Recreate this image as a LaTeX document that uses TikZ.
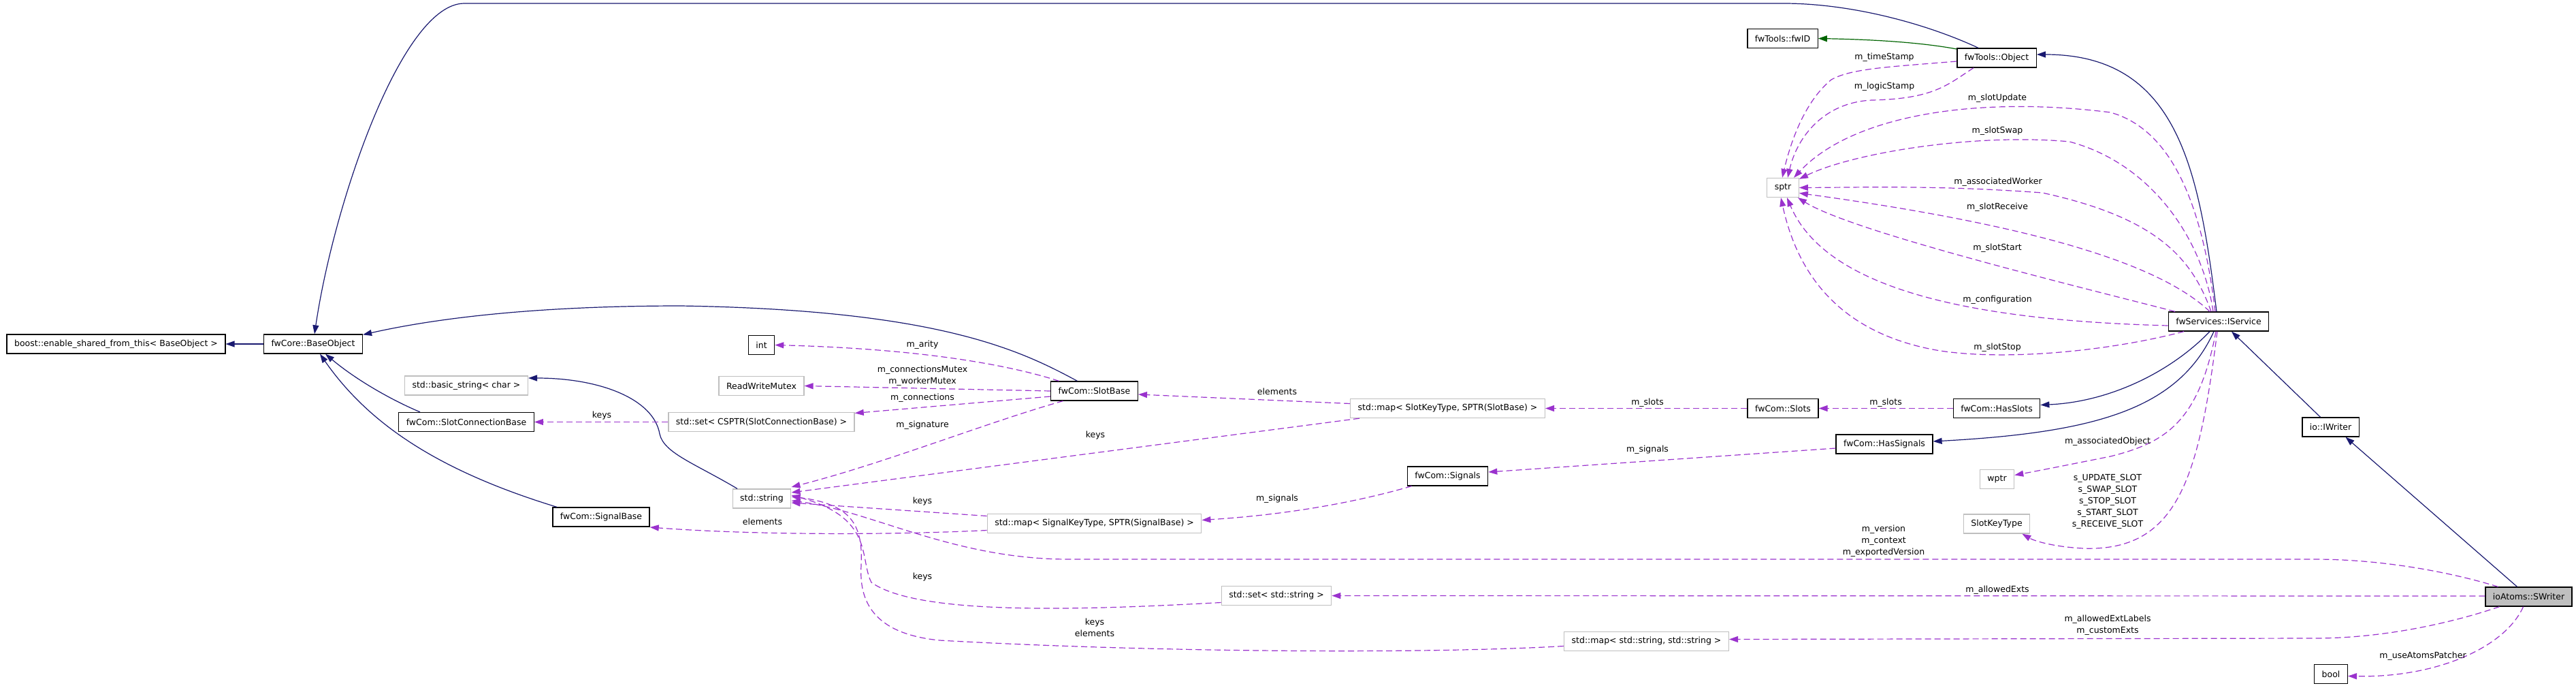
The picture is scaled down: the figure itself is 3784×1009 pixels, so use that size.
\documentclass[tikz,border=0pt]{standalone}
\usepackage{fontspec}
\setmainfont{DejaVu Sans}
\usetikzlibrary{arrows.meta}
\definecolor{inhcol}{HTML}{191970}
\definecolor{usecol}{HTML}{9A32CD}
\definecolor{tplcol}{HTML}{006400}
\definecolor{extcol}{HTML}{BFBFBF}

\begin{document}
\begin{tikzpicture}[x=1pt,y=-1pt,
        every node/.style={font=\fontsize{12.5}{17}\selectfont},
        cls/.style={draw=black,line width=1.3pt,fill=white,minimum height=28pt,inner xsep=11pt,inner ysep=0pt},
        ext/.style={cls,draw=extcol},
        inh/.style={draw=inhcol,line width=1.2pt,-{Triangle[length=13pt,width=9pt]}},
        tpl/.style={inh,draw=tplcol},
        use/.style={draw=usecol,line width=1.2pt,dash pattern=on 9pt off 5pt,-{Triangle[length=13pt,width=9pt]}},
        lbl/.style={inner sep=0pt}]
        \useasboundingbox (0,0) rectangle (3784,1009);

        \node[cls] (boost) at (170.5,505) {boost::enable\_shared\_from\_this< BaseObject >};
        \node[cls] (baseobj) at (460,505) {fwCore::BaseObject};
        \node[ext] (basicstr) at (685,566) {std::basic\_string< char >};
        \node[cls] (slotconn) at (685,619.5) {fwCom::SlotConnectionBase};
        \node[cls] (signalbase) at (883,759) {fwCom::SignalBase};
        \node[cls] (int) at (1118.5,506.5) {int};
        \node[ext] (rwmutex) at (1118.5,566.5) {ReadWriteMutex};
        \node[ext] (connset) at (1118.5,619.5) {std::set< CSPTR(SlotConnectionBase) >};
        \node[ext] (stdstring) at (1119,732) {std::string};
        \node[cls] (slotbase) at (1607.5,574) {fwCom::SlotBase};
        \node[ext] (signalmap) at (1607.5,768.5) {std::map< SignalKeyType, SPTR(SignalBase) >};
        \node[ext] (extset) at (1875,874.5) {std::set< std::string >};
        \node[ext] (slotmap) at (2126.5,599.5) {std::map< SlotKeyType, SPTR(SlotBase) >};
        \node[cls] (signals) at (2126.5,699) {fwCom::Signals};
        \node[ext] (labelmap) at (2418.5,941.5) {std::map< std::string, std::string >};
        \node[cls] (slots) at (2619,599.5) {fwCom::Slots};
        \node[cls] (fwid) at (2618.5,56.5) {fwTools::fwID};
        \node[ext] (sptr) at (2619,275.5) {sptr};
        \node[cls] (object) at (2933,85) {fwTools::Object};
        \node[cls] (hasslots) at (2933,599.5) {fwCom::HasSlots};
        \node[cls] (hassignals) at (2768,652) {fwCom::HasSignals};
        \node[ext] (wptr) at (2933.5,703.5) {wptr};
        \node[ext] (slotkey) at (2933,769) {SlotKeyType};
        \node[cls] (iservice) at (3259,472) {fwServices::IService};
        \node[cls] (iwriter) at (3423.5,627) {io::IWriter};
        \node[cls,fill=extcol] (swriter) at (3714.5,876) {ioAtoms::SWriter};
        \node[cls] (bool) at (3424,989.5) {bool};

        \draw[inh] (baseobj) -- (boost);
        \draw[inh] ([xshift=-27pt]object.north) .. controls (2830,35) and (2720,5) .. (2620,5) -- (682,5) .. controls (590,5) and (490,300) .. ([xshift=2pt]baseobj.north);
        \draw[inh] ([xshift=-25pt]slotbase.north) .. controls (1500,515) and (1380,455) .. (1000,449) .. controls (800,449) and (650,465) .. ([yshift=-1pt]baseobj.north east);
        \draw[inh] ([xshift=-68pt]slotconn.north) .. controls (570,585) and (520,555) .. ([xshift=18pt]baseobj.south);
        \draw[inh] ([xshift=-65pt]signalbase.north) .. controls (640,690) and (540,620) .. ([xshift=10pt]baseobj.south);
        \draw[inh] ([xshift=-36pt]stdstring.north) .. controls (1020,680) and (975,665) .. (969,637) .. controls (960,585) and (880,555) .. ([yshift=11pt]basicstr.east);
        \draw[tpl] ([yshift=13pt]object.west) .. controls (2820,62) and (2750,58) .. (fwid.east);
        \draw[inh] ([xshift=-3pt]iservice.north) .. controls (3230,250) and (3200,80) .. ([yshift=5pt]object.east);
        \draw[inh] ([xshift=-13pt]iservice.south) .. controls (3190,545) and (3100,590) .. ([yshift=5pt]hasslots.east);
        \draw[inh] ([xshift=-7pt]iservice.south) .. controls (3200,600) and (3080,635) .. ([yshift=4pt]hassignals.east);
        \draw[inh] ([xshift=-15pt]iwriter.north) -- ([xshift=19pt]iservice.south);
        \draw[inh] ([xshift=-17pt]swriter.north) -- ([xshift=22pt]iwriter.south);

        \draw[use] ([yshift=-5pt]object.west) .. controls (2780,98) and (2720,100) .. (2690,117) .. controls (2650,150) and (2630,210) .. ([xshift=-1pt]sptr.north);
        \draw[use] ([xshift=-34pt]object.south) .. controls (2860,125) and (2840,145) .. (2750,147) .. controls (2680,150) and (2640,200) .. ([xshift=7pt]sptr.north);
        \draw[use] ([xshift=-5pt]iservice.north) .. controls (3235,300) and (3190,190) .. (3100,165) .. controls (2900,140) and (2720,170) .. ([xshift=16pt]sptr.north);
        \draw[use] ([xshift=-8pt]iservice.north) .. controls (3235,350) and (3160,240) .. (3040,208) .. controls (2900,195) and (2720,225) .. ([yshift=-2pt]sptr.north east);
        \draw[use] ([xshift=-11pt]iservice.north) .. controls (3220,380) and (3170,320) .. (3000,283) .. controls (2850,272) and (2750,275) .. (sptr.east);
        \draw[use] ([xshift=-13pt]iservice.north) .. controls (3180,395) and (3020,335) .. ([yshift=-8pt]sptr.east);
        \draw[use] ([xshift=-64pt]iservice.north) .. controls (3050,420) and (2720,340) .. ([xshift=-2pt]sptr.south east);
        \draw[use] ([yshift=-6pt]iservice.west) .. controls (2880,470) and (2680,420) .. ([xshift=6pt]sptr.south);
        \draw[use] ([xshift=-51pt]iservice.south) .. controls (3100,515) and (2950,530) .. (2850,515) .. controls (2700,490) and (2640,400) .. ([xshift=-3pt]sptr.south);
        \draw[use] ([xshift=-4pt]iservice.south) .. controls (3230,620) and (3180,650) .. (3100,670) .. controls (3050,680) and (3000,690) .. ([yshift=6pt]wptr.east);
        \draw[use] ([xshift=-2pt]iservice.south) .. controls (3230,700) and (3200,810) .. (3060,805) .. controls (3020,803) and (2990,795) .. ([xshift=-12pt]slotkey.south east);

        \draw[use] (hasslots) -- (slots);
        \draw[use] (slots) -- (slotmap);
        \draw[use] ([yshift=7pt]slotmap.west) -- ([yshift=-5pt]slotbase.east);
        \draw[use] ([xshift=14pt]slotmap.south west) -- ([yshift=9pt]stdstring.east);
        \draw[use] ([xshift=-46pt]slotbase.south) .. controls (1450,620) and (1300,680) .. ([yshift=17pt]stdstring.east);
        \draw[use] ([xshift=-52pt]slotbase.north) .. controls (1480,535) and (1350,512) .. (int.east);
        \draw[use] (slotbase.west) -- (rwmutex.east);
        \draw[use] ([yshift=-8pt]slotbase.west) -- ([yshift=13pt]connset.east);
        \draw[use] (connset) -- (slotconn);
        \draw[use] ([yshift=-10pt]signalmap.west) .. controls (1300,786) and (1100,785) .. ([yshift=-15pt]signalbase.east);
        \draw[use] ([yshift=-6pt]hassignals.west) -- ([yshift=6pt]signals.east);
        \draw[use] ([xshift=-53pt]signals.south) .. controls (2000,735) and (1900,755) .. ([yshift=5pt]signalmap.east);
        \draw[use] ([yshift=11pt]signalmap.west) -- ([yshift=-6pt]stdstring.east);

        \draw[use] ([xshift=-45pt]swriter.north) .. controls (3600,840) and (3500,821) .. (3400,821) -- (1570,821) .. controls (1400,821) and (1280,750) .. ([yshift=-3pt]stdstring.east);
        \draw[use] ([yshift=1pt]swriter.west) -- (extset.east);
        \draw[use] ([yshift=-10pt]extset.west) .. controls (1600,895) and (1350,905) .. (1280,855) .. controls (1262,820) and (1285,760) .. ([yshift=5pt]stdstring.east);
        \draw[use] ([xshift=-43pt]swriter.south) .. controls (3600,915) and (3500,937) .. (3400,937) -- ([yshift=3pt]labelmap.east);
        \draw[use] ([yshift=-7pt]labelmap.west) .. controls (2100,960) and (1700,958) .. (1380,940) .. controls (1280,930) and (1262,880) .. (1265,830) .. controls (1268,770) and (1250,740) .. ([yshift=3pt]stdstring.east);
        \draw[use] ([xshift=-8pt]swriter.south) .. controls (3680,950) and (3580,995) .. ([yshift=-3pt]bool.east);

        \node[lbl] (lblkeysconn) at (884,610) {keys};
        \node[lbl] (lblarity) at (1355,506) {m\_arity};
        \node[lbl,align=center] (lblmutex) at (1355,552) {m\_connectionsMutex\\m\_workerMutex};
        \node[lbl] (lblconn) at (1355,584) {m\_connections};
        \node[lbl] (lblsignature) at (1355,624) {m\_signature};
        \node[lbl] (lblelemslot) at (1876,575) {elements};
        \node[lbl] (lblkeysslot) at (1609,639) {keys};
        \node[lbl] (lblkeyssignal) at (1355,736) {keys};
        \node[lbl] (lblsignalsmap) at (1876,732) {m\_signals};
        \node[lbl] (lblelemsignal) at (1120,766) {elements};
        \node[lbl] (lblkeysset) at (1355,847) {keys};
        \node[lbl,align=center] (lblkeyselem) at (1608,921) {keys\\elements};
        \node[lbl] (lblslotsmap) at (2420,591) {m\_slots};
        \node[lbl] (lblslots) at (2770,591) {m\_slots};
        \node[lbl] (lblsignals) at (2420,660) {m\_signals};
        \node[lbl] (lbltime) at (2768,84) {m\_timeStamp};
        \node[lbl] (lbllogic) at (2768,127) {m\_logicStamp};
        \node[lbl] (lblupdate) at (2934,144) {m\_slotUpdate};
        \node[lbl] (lblswap) at (2934,192) {m\_slotSwap};
        \node[lbl] (lblworker) at (2935,267) {m\_associatedWorker};
        \node[lbl] (lblreceive) at (2934,304) {m\_slotReceive};
        \node[lbl] (lblstart) at (2934,364) {m\_slotStart};
        \node[lbl] (lblconfig) at (2934,440) {m\_configuration};
        \node[lbl] (lblstop) at (2934,510) {m\_slotStop};
        \node[lbl,align=center] (lblversion) at (2767,794) {m\_version\\m\_context\\m\_exportedVersion};
        \node[lbl] (lblexts) at (2934,866) {m\_allowedExts};
        \node[lbl] (lblobject) at (3096,648) {m\_associatedObject};
        \node[lbl,align=center] (lblslotkeys) at (3096,736) {s\_UPDATE\_SLOT\\s\_SWAP\_SLOT\\s\_STOP\_SLOT\\s\_START\_SLOT\\s\_RECEIVE\_SLOT};
        \node[lbl,align=center] (lbllabels) at (3096,918) {m\_allowedExtLabels\\m\_customExts};
        \node[lbl] (lblpatcher) at (3559,963) {m\_useAtomsPatcher};

    \end{tikzpicture}
\end{document}
